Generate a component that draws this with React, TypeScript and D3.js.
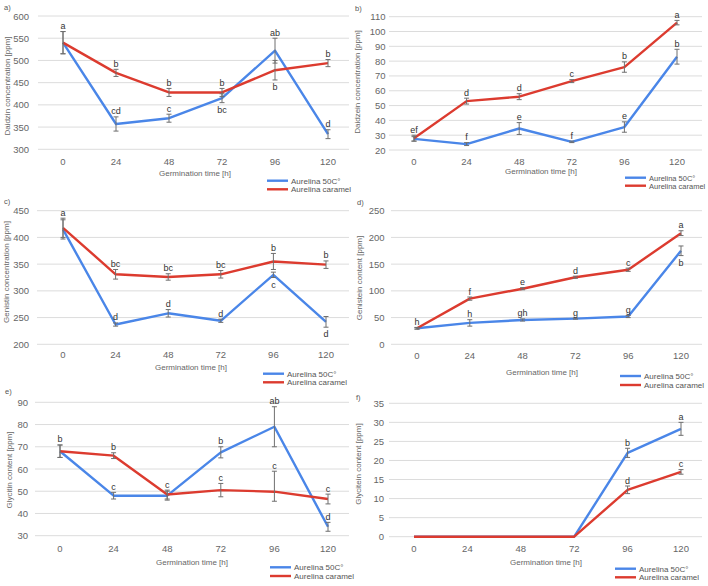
import React from "react";
import * as d3 from "d3";

// ---------- DATA ----------
const hours = ["0", "24", "48", "72", "96", "120"];
const seriesNames = ["Aurelina 50C°", "Aurelina caramel"];

// a) Daidzin
const daidzinTicks = [300, 350, 400, 450, 500, 550, 600];
const daidzin50 = [540, 357, 370, 415, 522, 334];
const daidzin50Err = [25, 16, 9, 10, 28, 10];
const daidzin50Let = ["", "cd", "c", "bc", "ab", "d"];
const daidzin50Pos = ["a", "a", "a", "b", "a", "a"];
const daidzinCar = [540, 472, 428, 428, 478, 494];
const daidzinCarErr = [25, 8, 9, 9, 22, 8];
const daidzinCarLet = ["a", "b", "b", "b", "b", "b"];
const daidzinCarPos = ["a", "a", "a", "a", "b", "a"];

// b) Daidzein
const daidzeinTicks = [20, 30, 40, 50, 60, 70, 80, 90, 100, 110];
const daidzein50 = [27.5, 24, 34.5, 25.5, 35.5, 83];
const daidzein50Err = [1.5, 1, 4, 0.5, 3.5, 5];
const daidzein50Let = ["", "f", "e", "f", "e", "b"];
const daidzein50Pos = ["a", "a", "a", "a", "a", "a"];
const daidzeinCar = [28, 53, 56, 66.5, 76, 106];
const daidzeinCarErr = [2, 2, 2, 1, 3.5, 1.5];
const daidzeinCarLet = ["ef", "d", "d", "c", "b", "a"];
const daidzeinCarPos = ["a", "a", "a", "a", "a", "a"];

// c) Genistin
const genistinTicks = [200, 250, 300, 350, 400, 450];
const genistin50 = [415, 237, 258, 244, 330, 242];
const genistin50Err = [18, 3, 7, 3, 5, 10];
const genistin50Let = ["", "d", "d", "d", "c", "d"];
const genistin50Pos = ["a", "a", "a", "a", "b", "b"];
const genistinCar = [418, 331, 326, 331, 355, 349];
const genistinCarErr = [18, 9, 6, 7, 15, 7];
const genistinCarLet = ["a", "bc", "bc", "bc", "b", "b"];
const genistinCarPos = ["a", "a", "a", "a", "a", "a"];

// d) Genistein
const genisteinTicks = [0, 50, 100, 150, 200, 250];
const genistein50 = [30, 40, 45.5, 48, 52, 175];
const genistein50Err = [1.5, 6, 2, 1, 2, 9];
const genistein50Let = ["", "h", "gh", "g", "g", "b"];
const genistein50Pos = ["a", "a", "a", "a", "a", "b"];
const genisteinCar = [30, 85.5, 104, 125.5, 139.5, 208];
const genisteinCarErr = [1.5, 3, 2, 2, 3, 4.5];
const genisteinCarLet = ["h", "f", "e", "d", "c", "a"];
const genisteinCarPos = ["a", "a", "a", "a", "a", "a"];

// e) Glycitin
const glycitinTicks = [30, 40, 50, 60, 70, 80, 90];
const glycitin50 = [68, 48, 48, 67.5, 79, 34];
const glycitin50Err: (number | number[])[] = [2.8, 1.5, 2, 2.5, 9, 2];
const glycitin50Let = ["", "c", "", "b", "ab", "d"];
const glycitin50Pos = ["a", "a", "a", "a", "a", "a"];
const glycitinCar = [68, 66, 48.5, 50.5, 49.8, 46.5];
const glycitinCarErr: (number | number[])[] = [2.8, 1.3, 2, 3, [4.3, 9.2], 2.2];
const glycitinCarLet = ["b", "b", "c", "c", "c", "c"];
const glycitinCarPos = ["a", "a", "a", "a", "a", "a"];

// f) Glycitein
const glyciteinTicks = [0, 5, 10, 15, 20, 25, 30, 35];
const glycitein50 = [0, 0, 0, 0, 22, 28.3];
const glycitein50Err = [0, 0, 0, 0, 1.2, 1.7];
const glycitein50Let = ["", "", "", "", "b", "a"];
const glycitein50Pos = ["a", "a", "a", "a", "a", "a"];
const glyciteinCar = [0, 0, 0, 0, 12.3, 17];
const glyciteinCarErr = [0, 0, 0, 0, 1, 0.6];
const glyciteinCarLet = ["", "", "", "", "d", "c"];
const glyciteinCarPos = ["a", "a", "a", "a", "a", "a"];

// ---------- STYLE / LAYOUT ----------
const BLUE = "#4a86e8";
const RED = "#dc3b2f";
const FONT = "'Liberation Sans', Arial, sans-serif";

type Layout = {
  x0: number; x1: number; yTop: number; yBot: number; gridL: number; gridR: number;
  yLabX: number; yTitleX: number; yTitleY: number; xTickY: number; xTitleX: number; xTitleY: number;
  legX: number; legY1: number; legY2: number; legFont: number; tagX: number; tagY: number;
};

type PanelDef = {
  tag: string; yTitle: string; ticks: number[];
  s: { vals: number[]; err: (number | number[])[]; lets: string[]; pos: string[]; color: string }[];
  L: Layout;
};

const panels: PanelDef[] = [
  {
    tag: "a)", yTitle: "Daidzin concentration [ppm]", ticks: daidzinTicks,
    s: [
      { vals: daidzin50, err: daidzin50Err, lets: daidzin50Let, pos: daidzin50Pos, color: BLUE },
      { vals: daidzinCar, err: daidzinCarErr, lets: daidzinCarLet, pos: daidzinCarPos, color: RED },
    ],
    L: { x0: 63, x1: 328, yTop: 16, yBot: 149.3, gridL: 38, gridR: 349, yLabX: 29, yTitleX: 10, yTitleY: 86,
      xTickY: 164.5, xTitleX: 195, xTitleY: 176, legX: 267, legY1: 180.7, legY2: 189.3, legFont: 8, tagX: 4, tagY: 10 },
  },
  {
    tag: "b)", yTitle: "Daidzein concentration [ppm]", ticks: daidzeinTicks,
    s: [
      { vals: daidzein50, err: daidzein50Err, lets: daidzein50Let, pos: daidzein50Pos, color: BLUE },
      { vals: daidzeinCar, err: daidzeinCarErr, lets: daidzeinCarLet, pos: daidzeinCarPos, color: RED },
    ],
    L: { x0: 414, x1: 677, yTop: 16.7, yBot: 150, gridL: 389, gridR: 702, yLabX: 385.5, yTitleX: 360, yTitleY: 82,
      xTickY: 164.5, xTitleX: 541, xTitleY: 173.5, legX: 625, legY1: 177.7, legY2: 185.7, legFont: 7.5, tagX: 355, tagY: 11 },
  },
  {
    tag: "c)", yTitle: "Genistin concentration [ppm]", ticks: genistinTicks,
    s: [
      { vals: genistin50, err: genistin50Err, lets: genistin50Let, pos: genistin50Pos, color: BLUE },
      { vals: genistinCar, err: genistinCarErr, lets: genistinCarLet, pos: genistinCarPos, color: RED },
    ],
    L: { x0: 63, x1: 326, yTop: 210.7, yBot: 344.3, gridL: 37, gridR: 349, yLabX: 29, yTitleX: 9, yTitleY: 272,
      xTickY: 357.5, xTitleX: 191, xTitleY: 370, legX: 263, legY1: 373.7, legY2: 382.3, legFont: 8, tagX: 4, tagY: 204 },
  },
  {
    tag: "d)", yTitle: "Genistein content [ppm]", ticks: genisteinTicks,
    s: [
      { vals: genistein50, err: genistein50Err, lets: genistein50Let, pos: genistein50Pos, color: BLUE },
      { vals: genisteinCar, err: genisteinCarErr, lets: genisteinCarLet, pos: genisteinCarPos, color: RED },
    ],
    L: { x0: 417, x1: 681, yTop: 210.7, yBot: 344.3, gridL: 391, gridR: 702, yLabX: 384.5, yTitleX: 362, yTitleY: 278,
      xTickY: 358.5, xTitleX: 542, xTitleY: 374.5, legX: 620, legY1: 376, legY2: 385, legFont: 8, tagX: 357, tagY: 205 },
  },
  {
    tag: "e)", yTitle: "Glycitin content [ppm]", ticks: glycitinTicks,
    s: [
      { vals: glycitin50, err: glycitin50Err, lets: glycitin50Let, pos: glycitin50Pos, color: BLUE },
      { vals: glycitinCar, err: glycitinCarErr, lets: glycitinCarLet, pos: glycitinCarPos, color: RED },
    ],
    L: { x0: 60, x1: 328, yTop: 402.3, yBot: 535.7, gridL: 35, gridR: 349, yLabX: 28, yTitleX: 12, yTitleY: 470,
      xTickY: 551.5, xTitleX: 192, xTitleY: 564.5, legX: 270, legY1: 567.3, legY2: 576, legFont: 8, tagX: 5, tagY: 394 },
  },
  {
    tag: "f)", yTitle: "Glycitein content [ppm]", ticks: glyciteinTicks,
    s: [
      { vals: glycitein50, err: glycitein50Err, lets: glycitein50Let, pos: glycitein50Pos, color: BLUE },
      { vals: glyciteinCar, err: glyciteinCarErr, lets: glyciteinCarLet, pos: glyciteinCarPos, color: RED },
    ],
    L: { x0: 414, x1: 681, yTop: 403.3, yBot: 536.7, gridL: 389, gridR: 702, yLabX: 384, yTitleX: 361, yTitleY: 464,
      xTickY: 551.5, xTitleX: 546, xTitleY: 564.5, legX: 615, legY1: 568.7, legY2: 577.3, legFont: 8, tagX: 356, tagY: 400 },
  },
];

function errPair(e: number | number[]): [number, number] {
  if (Array.isArray(e)) return [e[0], e[1]];
  return [e, e];
}

function Panel({ p }: { p: PanelDef }) {
  const L = p.L;
  const x = d3.scalePoint<string>().domain(hours).range([L.x0, L.x1]);
  const y = d3.scaleLinear().domain([d3.min(p.ticks)!, d3.max(p.ticks)!]).range([L.yBot, L.yTop]);
  const line = d3.line<number>().x((_, i) => x(hours[i])!).y((v) => y(v));
  return (
    <g>
      <text x={L.tagX} y={L.tagY} fontSize={7.5} fill="#555" fontFamily={FONT}>{p.tag}</text>
      {p.ticks.map((t) => (
        <g key={t}>
          <line x1={L.gridL} x2={L.gridR} y1={y(t)} y2={y(t)} stroke="#dcdcdc" strokeWidth={1} />
          <text x={L.yLabX} y={y(t) + 3.5} textAnchor="end" fontSize={9.5} fill="#666" fontFamily={FONT}>{t}</text>
        </g>
      ))}
      {hours.map((h) => (
        <text key={h} x={x(h)} y={L.xTickY} textAnchor="middle" fontSize={9.5} fill="#666" fontFamily={FONT}>{h}</text>
      ))}
      <text x={L.xTitleX} y={L.xTitleY} textAnchor="middle" fontSize={8} fill="#666" fontFamily={FONT}>Germination time [h]</text>
      <text transform={`translate(${L.yTitleX},${L.yTitleY}) rotate(-90)`} textAnchor="middle" fontSize={8} fill="#666" fontFamily={FONT}>{p.yTitle}</text>
      {p.s.map((s, si) => (
        <path key={si} d={line(s.vals) || ""} fill="none" stroke={s.color} strokeWidth={2.4} strokeLinejoin="round" />
      ))}
      {p.s.map((s, si) =>
        s.vals.map((v, i) => {
          const [dn, up] = errPair(s.err[i]);
          if (dn === 0 && up === 0) return null;
          const cx = x(hours[i])!;
          const yt = y(v + up), yb = y(v - dn);
          return (
            <g key={`e${si}-${i}`} stroke="#6f6f6f" strokeWidth={1}>
              <line x1={cx} x2={cx} y1={yt} y2={yb} />
              <line x1={cx - 2.5} x2={cx + 2.5} y1={yt} y2={yt} />
              <line x1={cx - 2.5} x2={cx + 2.5} y1={yb} y2={yb} />
            </g>
          );
        })
      )}
      {p.s.map((s, si) =>
        s.vals.map((v, i) => {
          const lab = s.lets[i];
          if (!lab) return null;
          const [dn, up] = errPair(s.err[i]);
          const cx = x(hours[i])!;
          const ly = s.pos[i] === "a" ? y(v + up) - 2.5 : y(v - dn) + 10;
          return (
            <text key={`l${si}-${i}`} x={cx} y={ly} textAnchor="middle" fontSize={9} fill="#333" fontFamily={FONT}>{lab}</text>
          );
        })
      )}
      {seriesNames.map((n, i) => {
        const ly = i === 0 ? L.legY1 : L.legY2;
        return (
          <g key={n}>
            <line x1={L.legX} x2={L.legX + 21} y1={ly} y2={ly} stroke={i === 0 ? BLUE : RED} strokeWidth={2.4} />
            <text x={L.legX + 24} y={ly + 3} fontSize={L.legFont} fill="#555" fontFamily={FONT}>{n}</text>
          </g>
        );
      })}
    </g>
  );
}

export default function App() {
  return (
    <svg width={708} height={586} style={{ position: "fixed", left: 0, top: 0, background: "#fff" }}>
      <rect width={708} height={586} fill="#fff" />
      {panels.map((p) => (
        <Panel key={p.tag} p={p} />
      ))}
    </svg>
  );
}
